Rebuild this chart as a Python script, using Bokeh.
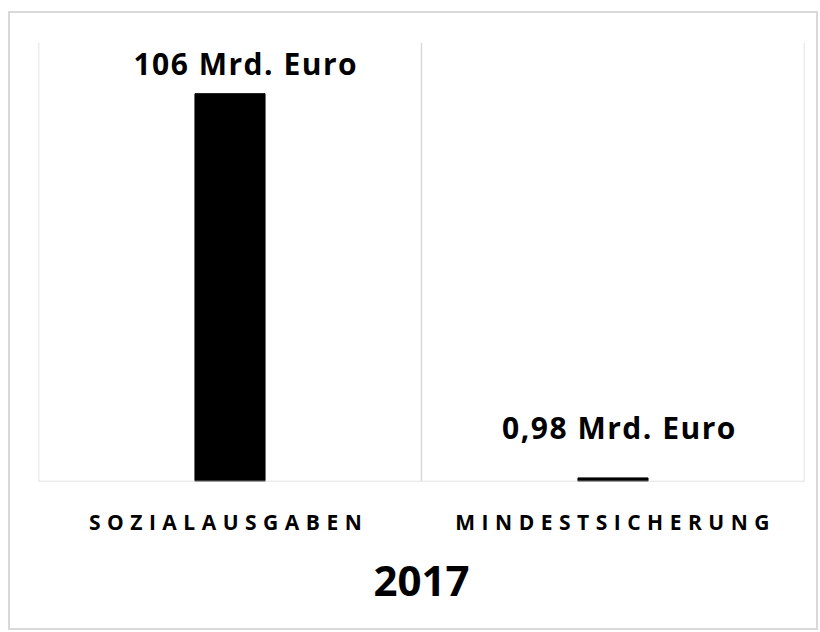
from bokeh.plotting import figure
from bokeh.models import ColumnDataSource, Range1d, FactorRange, Span, FixedTicker
from bokeh.layouts import column
from bokeh.embed import file_html
from bokeh.resources import INLINE
from bokeh.core.properties import value

# ---- data ----
categories = ["SOZIALAUSGABEN", "MINDESTSICHERUNG"]
values = [106, 0.98]
value_labels = ["106 Mrd. Euro", "0,98 Mrd. Euro"]
year_label = "2017"
y_max = 120

# ---- style (label nudges in px) ----
label_dx = [6, -4]
label_dy = [-30, -50]
GRID = "#d9d9d9"
FONT = "Open Sans"

src = ColumnDataSource(dict(cat=categories, val=values, lab=value_labels,
                            dx=label_dx, dy=label_dy))
x_range = FactorRange(*categories)

common = dict(width=806, output_backend="svg", toolbar_location=None,
              min_border_left=28, min_border_right=12, outline_line_color=None,
              background_fill_color="white", border_fill_color="white")

# main plot
p = figure(x_range=x_range, y_range=Range1d(0, y_max), height=471,
           x_axis_location=None, y_axis_location=None,
           min_border_top=29, min_border_bottom=3, **common)
p.grid.visible = False
for i in range(len(categories) + 1):
    p.add_layout(Span(location=i, dimension="height", line_color=GRID, line_width=1.5))
p.add_layout(Span(location=0, dimension="width", line_color=GRID, line_width=1.5))
p.vbar(x="cat", top="val", width=0.183, source=src, color="black")
p.text(x="cat", y="val", text="lab", x_offset="dx", y_offset="dy", source=src,
       text_align="center", text_baseline="alphabetic", text_font=value(FONT),
       text_font_style="bold", text_font_size="30px", text_color="black")
p.styles = {"letter-spacing": "1.5px"}

# category axis strip (letter-spaced labels; range shifted to re-centre the spaced text)
centres = [i + 0.5 for i in range(len(categories))]
pa = figure(x_range=Range1d(0.12, 2.133), y_range=Range1d(0, 1), height=54,
            y_axis_location=None, min_border_top=0, min_border_bottom=40, **common)
pa.grid.visible = False
ax = pa.xaxis[0]
ax.ticker = FixedTicker(ticks=centres)
ax.major_label_overrides = {c: name for c, name in zip(centres, categories)}
ax.axis_line_color = None
ax.major_tick_line_color = None
ax.minor_tick_line_color = None
ax.major_label_standoff = 7
ax.major_label_text_font = FONT
ax.major_label_text_font_style = "bold"
ax.major_label_text_font_size = "21px"
ax.major_label_text_color = "black"
pa.styles = {"letter-spacing": "6.5px"}

# year title strip
pt = figure(x_range=x_range, y_range=Range1d(0, 1), height=90,
            x_axis_location=None, y_axis_location=None,
            min_border_top=62, min_border_bottom=0, title=year_label, title_location="above",
            **common)
pt.grid.visible = False
pt.title.align = "center"
pt.title.text_font = FONT
pt.title.text_font_style = "bold"
pt.title.text_font_size = "42px"
pt.title.text_color = "black"

layout = column(p, pa, pt, spacing=0,
                styles={"border": "2px solid #d9d9d9", "margin-left": "8px", "margin-top": "11px"})
open("out.html", "w").write(file_html(layout, INLINE))
